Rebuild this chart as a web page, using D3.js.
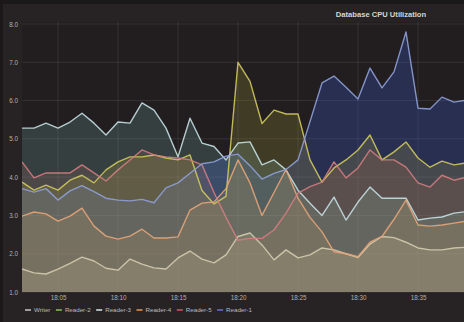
<!DOCTYPE html>
<html>
<head>
<meta charset="utf-8">
<script src="https://cdn.jsdelivr.net/npm/d3@7"></script>
<style>
  html, body { margin: 0; padding: 0; background: #1b1819; }
  svg { display: block; }
  text { font-family: "Liberation Sans", Arial, sans-serif; }
</style>
</head>
<body>
<svg id="chart" width="464" height="322"></svg>
<script>
// ---- data (one value per minute, 18:02 .. 18:39) ----
const startTime = [18, 2];
const seriesNames = ["Writer", "Reader-2", "Reader-3", "Reader-4", "Reader-5", "Reader-1"];
const writer  = [1.60,1.50,1.47,1.60,1.75,1.91,1.81,1.62,1.57,1.86,1.73,1.63,1.60,1.89,2.07,1.86,1.76,1.97,2.45,2.54,2.23,1.84,2.10,1.89,1.97,2.15,2.10,2.00,1.90,2.25,2.45,2.42,2.30,2.15,2.10,2.10,2.15,2.17];
const reader2 = [3.87,3.66,3.79,3.66,3.92,4.05,3.85,4.19,4.40,4.53,4.53,4.58,4.50,4.45,4.58,3.65,3.30,3.50,7.00,6.50,5.40,5.75,5.65,5.65,4.45,3.87,4.24,4.45,4.71,5.10,4.45,4.66,4.92,4.50,4.26,4.42,4.32,4.37];
const reader3 = [5.28,5.28,5.41,5.28,5.44,5.67,5.41,5.10,5.44,5.41,5.94,5.75,5.28,4.53,5.54,4.89,4.80,4.45,4.89,4.92,4.32,4.45,4.19,3.66,3.32,3.00,3.48,2.88,3.35,3.74,3.45,3.45,3.45,2.88,2.93,2.96,3.06,3.10];
const reader4 = [2.98,3.09,3.04,2.85,2.98,3.19,2.72,2.46,2.38,2.46,2.64,2.41,2.41,2.44,3.14,3.32,3.35,3.70,4.45,3.85,3.00,3.60,4.20,3.45,2.95,2.57,2.05,2.00,1.92,2.30,2.45,2.90,3.40,2.75,2.72,2.75,2.80,2.85];
const reader5 = [4.40,3.98,4.11,4.11,4.11,4.32,4.11,3.90,4.19,4.45,4.71,4.58,4.53,4.50,4.45,4.32,3.60,2.95,2.35,2.40,2.40,2.62,3.06,3.58,3.75,3.87,4.40,3.98,4.24,4.71,4.45,4.45,4.26,3.85,3.74,4.05,3.92,4.00];
const reader1 = [3.70,3.61,3.70,3.40,3.64,3.78,3.62,3.45,3.40,3.38,3.42,3.33,3.72,3.85,4.10,4.35,4.40,4.55,4.60,4.30,3.95,4.10,4.20,4.45,5.45,6.46,6.64,6.35,6.04,6.85,6.33,6.75,7.79,5.80,5.78,6.09,5.96,6.01];
const yTicks = [1, 2, 3, 4, 5, 6, 7, 8];
const xTickMinutes = [5, 10, 15, 20, 25, 30, 35];
const title = "Database CPU Utilization";

// ---- styles ----
const lineColors = ["#d4cbae", "#d0c95e", "#c4dfe2", "#e4a478", "#d27c80", "#8ea0d8"];
const fillColors = ["#cfc49c", "#bab040", "#80c2c4", "#d49060", "#b45c5c", "#3f62dc"];
const legendColors = ["#c8c8c8", "#8cbf5a", "#d8e8ea", "#e8964e", "#d05a66", "#6e70d0"];

const allSeries = [writer, reader2, reader3, reader4, reader5, reader1];

const W = 464, H = 322;
const plot = { left: 22, right: 464, top: 24, bottom: 292 };

const svg = d3.select("#chart");
svg.append("rect").attr("x", 0).attr("y", 0).attr("width", W).attr("height", H).attr("fill", "#1b1819");
svg.append("rect").attr("x", 3).attr("y", 4).attr("width", W - 3).attr("height", H - 4).attr("fill", "#272324");
svg.append("rect").attr("x", plot.left).attr("y", plot.top - 2).attr("width", plot.right - plot.left)
   .attr("height", plot.bottom - plot.top + 2).attr("fill", "#221e1f");

const t0 = new Date(2017, 0, 1, startTime[0], startTime[1]);
const timeAt = i => new Date(t0.getTime() + i * 60000);
const x = d3.scaleTime()
  .domain([t0, timeAt(37)])
  .range([22, 22 + 37 * 12]);
const y = d3.scaleLinear().domain([1, 8]).range([plot.bottom, plot.top]);

svg.append("defs").append("clipPath").attr("id", "clip")
  .append("rect").attr("x", plot.left).attr("y", plot.top - 2)
  .attr("width", plot.right - plot.left).attr("height", plot.bottom - plot.top + 2);

// grid
const xTickDates = xTickMinutes.map(m => new Date(2017, 0, 1, 18, m));
const grid = svg.append("g");
grid.selectAll(".hg").data(yTicks).join("line")
  .attr("x1", plot.left).attr("x2", plot.right)
  .attr("y1", d => y(d)).attr("y2", d => y(d))
  .attr("stroke", "#ffffff").attr("stroke-opacity", 0.09).attr("stroke-width", 1);
grid.selectAll(".vg").data(xTickDates).join("line")
  .attr("x1", d => x(d)).attr("x2", d => x(d))
  .attr("y1", plot.top - 2).attr("y2", plot.bottom)
  .attr("stroke", "#ffffff").attr("stroke-opacity", 0.09).attr("stroke-width", 1);

// areas + lines
const g = svg.append("g").attr("clip-path", "url(#clip)");
const area = d3.area().x((d, i) => x(timeAt(i))).y0(y(1)).y1(d => y(d));
const line = d3.line().x((d, i) => x(timeAt(i))).y(d => y(d));

const fillOrder = [5, 4, 3, 2, 1, 0];
g.selectAll("path.area").data(fillOrder).join("path")
  .attr("class", "area")
  .attr("d", k => area(allSeries[k]))
  .attr("fill", k => fillColors[k])
  .attr("fill-opacity", k => k === 5 ? 0.26 : (k === 0 ? 0.17 : 0.2));

g.selectAll("path.line").data(allSeries).join("path")
  .attr("class", "line")
  .attr("d", d => line(d))
  .attr("fill", "none")
  .attr("stroke", (d, i) => lineColors[i])
  .attr("stroke-width", 1.4)
  .attr("stroke-opacity", 0.9)
  .attr("stroke-linejoin", "round");

// axes
const yAxis = svg.append("g").attr("transform", `translate(${plot.left - 3},0)`)
  .call(d3.axisLeft(y).tickValues(yTicks).tickFormat(d3.format(".1f")).tickSize(0).tickPadding(1));
yAxis.select(".domain").remove();
yAxis.selectAll("text").attr("fill", "#b4b0ae").attr("font-size", 6.3)
  .attr("font-family", "Liberation Sans, Arial, sans-serif");

const xAxis = svg.append("g").attr("transform", `translate(0,${plot.bottom + 3})`)
  .call(d3.axisBottom(x).tickValues(xTickDates).tickFormat(d3.timeFormat("%H:%M")).tickSize(0).tickPadding(1));
xAxis.select(".domain").remove();
xAxis.selectAll("text").attr("fill", "#b4b0ae").attr("font-size", 6.3)
  .attr("font-family", "Liberation Sans, Arial, sans-serif");

// title
svg.append("text").attr("x", 381).attr("y", 17).attr("text-anchor", "middle")
  .attr("font-size", 7.6).attr("font-weight", "bold").attr("fill", "#d6d4d4").text(title);

// legend
const legend = svg.append("g");
let lx = 25;
const ly = 310;
seriesNames.forEach((name, i) => {
  legend.append("line").attr("x1", lx).attr("x2", lx + 6).attr("y1", ly).attr("y2", ly)
    .attr("stroke", legendColors[i]).attr("stroke-width", 1.5);
  const t = legend.append("text").attr("x", lx + 9).attr("y", ly + 2.2)
    .attr("font-size", 6.2).attr("fill", "#bdb9b8").text(name);
  const w = t.node().getComputedTextLength();
  lx = lx + 9 + w + 5.5;
});
</script>
</body>
</html>
